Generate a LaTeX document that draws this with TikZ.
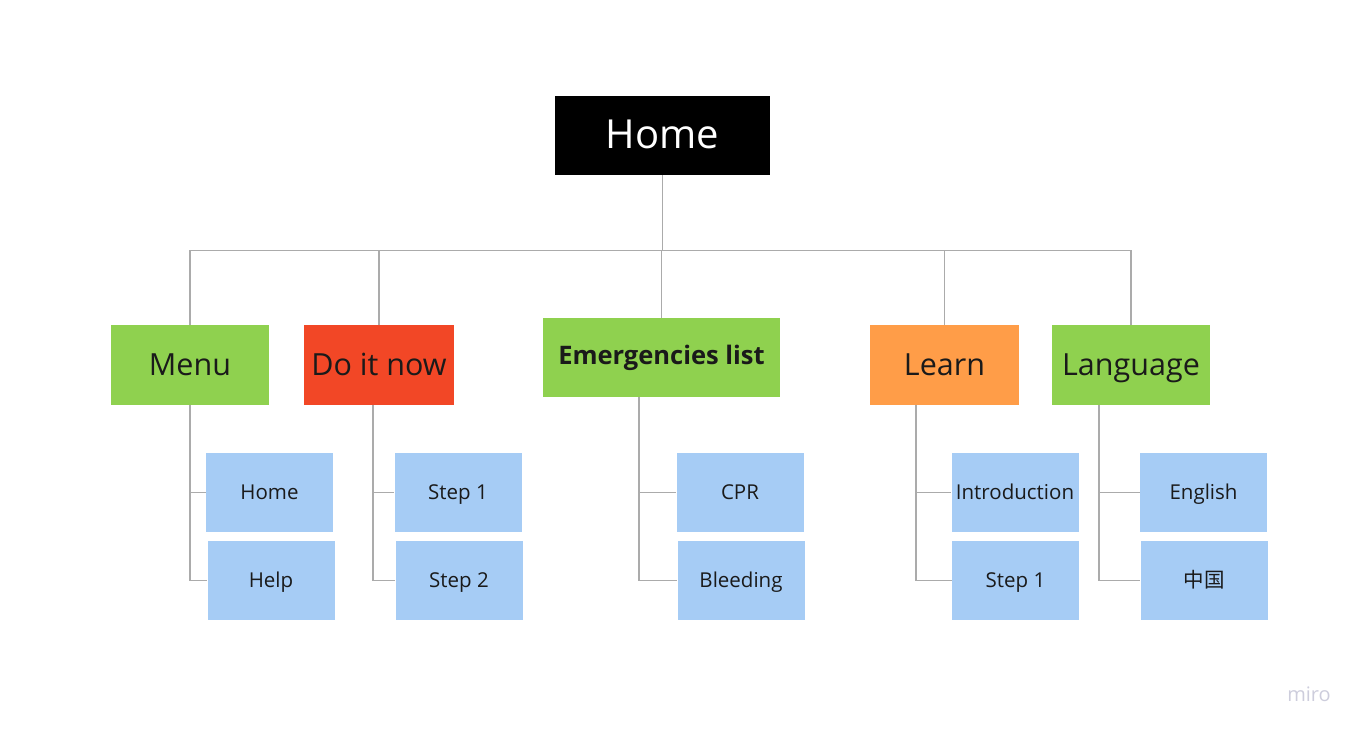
\documentclass[tikz,border=0pt]{standalone}
\usepackage{fontspec}
\setmainfont{Open Sans}
\newfontfamily\cjk{Noto Sans CJK SC}
\definecolor{mirogreen}{HTML}{8FD14F}
\definecolor{mirored}{HTML}{F24726}
\definecolor{miroorange}{HTML}{FF9D48}
\definecolor{miroblue}{HTML}{A6CCF5}
\definecolor{linkgray}{HTML}{ABABAB}
\definecolor{inkdark}{HTML}{1A1A1A}
\definecolor{markgray}{HTML}{CDCDDC}
\tikzset{
  box/.style={inner sep=0pt, text=inkdark, anchor=center},
  topbox/.style={box, fill=black, text=white, minimum width=215, minimum height=79,
    text height=29pt, text depth=4pt, font=\fontsize{40}{48}\selectfont},
  secbox/.style={box, minimum height=80, text height=23pt, text depth=3pt,
    font=\fontsize{30.5}{37}\selectfont},
  leafbox/.style={box, fill=miroblue, minimum width=127, minimum height=79,
    text height=15.5pt, text depth=2pt, font=\fontsize{20.5}{25}\selectfont},
  link/.style={draw=linkgray, line width=1.3pt}
}
\begin{document}
\begin{tikzpicture}[x=1pt, y=-1pt]
  \useasboundingbox (0,0) rectangle (1362,734);

  % Top level
  \node[topbox] (home) at (662.5,135.5) {Home};

  % Sections
  \node[secbox, fill=mirogreen, minimum width=158] (menu) at (190,365) {Menu};
  \node[secbox, fill=mirored, minimum width=150] (dnow) at (379,365) {Do it now};
  \node[box, fill=mirogreen, minimum width=237, minimum height=79,
    text height=16pt, text depth=2.4pt,
    font=\fontsize{25.5}{30}\selectfont\bfseries] (emerg) at (661.5,357.5) {Emergencies list};
  \node[secbox, fill=miroorange, minimum width=149] (learn) at (944.5,365) {Learn};
  \node[secbox, fill=mirogreen, minimum width=158] (lang) at (1131,365) {Language};

  % Pages under each section
  \node[leafbox] (mhome) at (269.5,492.5) {Home};
  \node[leafbox] (mhelp) at (271,580.5) {Help};
  \node[leafbox] (dstepa) at (458,492.5) {Step 1};
  \node[leafbox] (dstepb) at (459,580.5) {Step 2};
  \node[leafbox] (ecpr) at (740,492.5) {CPR};
  \node[leafbox] (ebleed) at (741,580.5) {Bleeding};
  \node[leafbox] (lintro) at (1015,492.5) {Introduction};
  \node[leafbox] (lstep) at (1015.5,580.5) {Step 1};
  \node[leafbox] (langen) at (1203.5,492.5) {English};
  \node[leafbox] (langzh) at (1204,580.5) {\cjk 中国};

  % Bus from Home to the sections
  \draw[link] (home.south) -- ++(0,75) coordinate (bus);
  \draw[link] (menu.north) |- (bus) -| (lang.north);
  \foreach \s in {dnow, emerg, learn}
    \draw[link] (\s.north) -- (\s.north |- bus);

  % Section to page links
  \draw[link] (menu.south) |- (mhome.west);
  \draw[link] (menu.south) |- (mhelp.west);
  \draw[link] ([xshift=-6]dnow.south) |- (dstepa.west);
  \draw[link] ([xshift=-6]dnow.south) |- (dstepb.west);
  \draw[link] ([xshift=-22.5]emerg.south) |- (ecpr.west);
  \draw[link] ([xshift=-22.5]emerg.south) |- (ebleed.west);
  \draw[link] ([xshift=-28.5]learn.south) |- (lintro.west);
  \draw[link] ([xshift=-28.5]learn.south) |- (lstep.west);
  \draw[link] ([xshift=-32]lang.south) |- (langen.west);
  \draw[link] ([xshift=-32]lang.south) |- (langzh.west);

  % Watermark
  \node[text=markgray, font=\fontsize{20}{24}\selectfont] (mark) at (1309,694) {miro};
\end{tikzpicture}
\end{document}
